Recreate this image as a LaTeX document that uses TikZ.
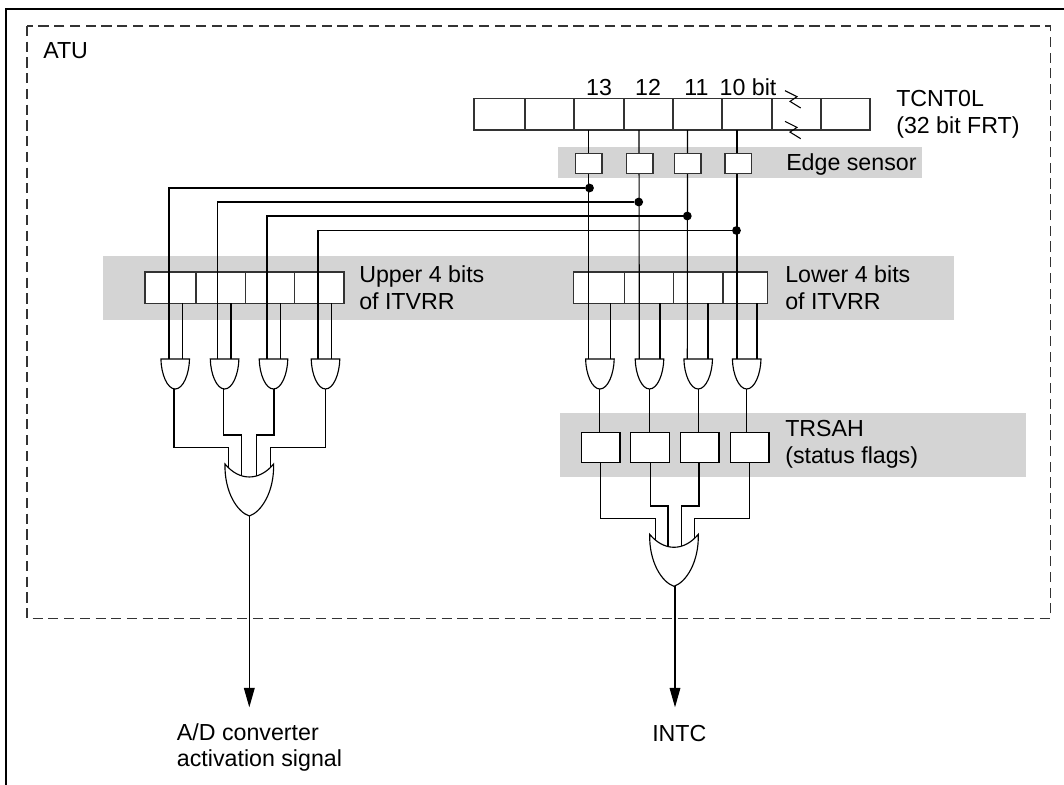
\documentclass[tikz,border=0pt]{standalone}
\usepackage{fontspec}
\setmainfont{Liberation Sans}
\usepackage{tkz-euclide}
\usetikzlibrary{arrows.meta}
\definecolor{BandClr}{rgb}{0.83,0.83,0.83}
\definecolor{BoxClr}{rgb}{0.2,0.2,0.2}
\tikzset{
  wire/.style={line width=.85pt,color=black},
  outwire/.style={wire,-{Triangle[length=14.5pt,width=8pt]}},
  regcell/.style={draw=BoxClr,line width=1.1pt,fill=white,inner sep=0pt,outer sep=0pt,minimum height=23.5pt},
  tcntcell/.style={regcell,minimum width=37pt},
  edgebox/.style={draw=BoxClr,line width=1pt,fill=white,inner sep=0pt,outer sep=0pt,minimum width=20pt,minimum height=15pt},
  flagbox/.style={draw=black,line width=1pt,fill=white,inner sep=0pt,outer sep=0pt,minimum width=29pt,minimum height=22.2pt},
  jointdot/.style={circle,fill=black,inner sep=0pt,minimum size=6.6pt},
  lbl/.style={anchor=base west,inner sep=0pt,font=\fontsize{17.4}{20}\selectfont,align=left},
  bitlbl/.style={lbl,anchor=base},
  andgate/.pic={
    \draw[wire,fill=white] (-14.3,0) .. controls (-14,15) and (-8,30) .. (0,30)
      .. controls (8,30) and (14,15) .. (14.3,0) -- cycle;
    \coordinate (-out) at (0,30);
  },
  orgate/.pic={
    \draw[wire,fill=white] (-24.3,0) .. controls (-10,17.3) and (10,17.3) .. (24.3,0)
      .. controls (25,28) and (12,48) .. (0,52)
      .. controls (-12,48) and (-25,28) .. (-24.3,0) -- cycle;
    \coordinate (-out) at (0,52);
  },
  breakmark/.pic={
    \draw[line width=.8pt,color=black] (-8,-8) -- (4,-2) -- (-3,2.7) -- (7.7,9.3);
  }
}

\begin{document}
\begin{tikzpicture}[x=.75pt,y=-.75pt]
\useasboundingbox (0,0) rectangle (1064,785);

\tkzDefPoints{6/9/FrameA,1064/9/FrameB,6/785/FrameC}
\tkzDefPoints{27/26/AtuA,1050.3/618.3/AtuB}

\draw[line width=1.7pt] (FrameB) -- (FrameA) -- (FrameC);
\draw[line width=.85pt,color=BoxClr,dash pattern=on 7.6pt off 4.2pt] (AtuA) rectangle (AtuB);

\fill[BandClr] (558,147) rectangle (922,177.7);
\fill[BandClr] (103,256) rectangle (954,319.5);
\fill[BandClr] (560,413) rectangle (1026,476.7);

\node[tcntcell,minimum width=38.2pt] (T1) at (499.5,114.3) {};
\node[tcntcell] (T2) at (549.5,114.3) {};
\node[tcntcell] (T3) at (599,114.3) {};
\node[tcntcell] (T4) at (648.5,114.3) {};
\node[tcntcell] (T5) at (697.5,114.3) {};
\node[tcntcell] (T6) at (747,114.3) {};
\node[tcntcell] (T7) at (796.5,114.3) {};
\node[tcntcell] (T8) at (845.5,114.3) {};

\node[regcell,minimum width=38.2pt] (U1) at (170.5,287.7) {};
\node[tcntcell] (U2) at (220.7,287.7) {};
\node[tcntcell] (U3) at (270,287.7) {};
\node[tcntcell] (U4) at (319.3,287.7) {};

\node[regcell,minimum width=38.1pt] (L1) at (599.1,287.7) {};
\node[tcntcell] (L2) at (649.1,287.7) {};
\node[tcntcell] (L3) at (698.4,287.7) {};
\node[regcell,minimum width=33.5pt] (L4) at (745.4,287.7) {};

\node[jointdot] (D13) at (589.5,188) {};
\node[jointdot] (D12) at (638.7,202) {};
\node[jointdot] (D11) at (687.3,216) {};
\node[jointdot] (D10) at (736.5,230.5) {};

\tkzDefPoints{588.7/130/S13,639/130/S12,687.5/130/S11,737/130/S10}
\tkzDefPoints{588.7/359/LA1,610.7/359/LB1,639.3/359/LA2,660/359/LB2,687.3/359/LA3,708/359/LB3,737/359/LA4,757/359/LB4}
\tkzDefPoints{169/359/UA1,182.3/359/UB1,217.3/359/UA2,231/359/UB2,267/359/UA3,280.3/359/UB3,318/359/UA4,331.7/359/UB4}

\draw[wire] (S13) -- (LA1);
\draw[wire] (S12) -- (LA2);
\draw[wire] (S11) -- (LA3);
\draw[wire] (S10) -- (LA4);

\draw[wire] (D13) -- (UA1 |- D13) -- (UA1);
\draw[wire] (D12) -- (UA2 |- D12) -- (UA2);
\draw[wire] (D11) -- (UA3 |- D11) -- (UA3);
\draw[wire] (D10) -- (UA4 |- D10) -- (UA4);

\draw[wire] (U1.south -| UB1) -- (UB1);
\draw[wire] (U2.south -| UB2) -- (UB2);
\draw[wire] (U3.south -| UB3) -- (UB3);
\draw[wire] (U4.south -| UB4) -- (UB4);
\draw[wire] (L1.south -| LB1) -- (LB1);
\draw[wire] (L2.south -| LB2) -- (LB2);
\draw[wire] (L3.south -| LB3) -- (LB3);
\draw[wire] (L4.south -| LB4) -- (LB4);

\node[edgebox] (E13) at (588.7,163.7) {};
\node[edgebox] (E12) at (639.7,163.7) {};
\node[edgebox] (E11) at (687.7,163.7) {};
\node[edgebox] (E10) at (738.2,163.7) {};

\pic (GU1) at (175.2,359) {andgate};
\pic (GU2) at (224.6,359) {andgate};
\pic (GU3) at (273.5,359) {andgate};
\pic (GU4) at (325.5,359) {andgate};
\pic (GL1) at (599.9,359) {andgate};
\pic (GL2) at (649.5,359) {andgate};
\pic (GL3) at (698.2,359) {andgate};
\pic (GL4) at (746.7,359) {andgate};

\node[flagbox] (F1) at (600.7,447.5) {};
\node[flagbox] (F2) at (650,447.5) {};
\node[flagbox] (F3) at (699.7,447.5) {};
\node[flagbox] (F4) at (749.5,447.5) {};

\draw[wire] (GL1-out) -- (F1.north -| GL1-out);
\draw[wire] (GL2-out) -- (F2.north -| GL2-out);
\draw[wire] (GL3-out) -- (F3.north -| GL3-out);
\draw[wire] (GL4-out) -- (F4.north -| GL4-out);

\tkzDefPoints{174/447.7/UP1,228.7/447.7/UQ1,223.7/435/UP2,241.3/435/UQ2,274/435/UP3,256.3/435/UQ3,325.7/447.7/UP4,270.7/447.7/UQ4}
\tkzDefPoints{228.7/480/UR1,241.3/490/UR2,256.3/490/UR3,270.7/480/UR4}
\tkzDefPoints{600.7/518.3/LP1,655.7/518.3/LQ1,650.3/506/LP2,668/506/LQ2,699/506/LP3,681.7/506/LQ3,749.3/518.3/LP4,694.7/518.3/LQ4}
\tkzDefPoints{655.7/550/LR1,668/560/LR2,681.7/560/LR3,694.7/550/LR4}

\draw[wire] (UP1 |- GU1-out) -- (UP1) -- (UQ1) -- (UR1);
\draw[wire] (UP2 |- GU2-out) -- (UP2) -- (UQ2) -- (UR2);
\draw[wire] (UP3 |- GU3-out) -- (UP3) -- (UQ3) -- (UR3);
\draw[wire] (UP4 |- GU4-out) -- (UP4) -- (UQ4) -- (UR4);
\draw[wire] (F1.south -| LP1) -- (LP1) -- (LQ1) -- (LR1);
\draw[wire] (F2.south -| LP2) -- (LP2) -- (LQ2) -- (LR2);
\draw[wire] (F3.south -| LP3) -- (LP3) -- (LQ3) -- (LR3);
\draw[wire] (F4.south -| LP4) -- (LP4) -- (LQ4) -- (LR4);

\pic (OU) at (249.3,464) {orgate};
\pic (OL) at (674,534.3) {orgate};

\tkzDefPoints{249.3/707.3/AdEnd,675/707.3/IntcEnd}
\draw[outwire] (OU-out) -- (AdEnd);
\draw[outwire] (OL-out -| IntcEnd) -- (IntcEnd);

\pic at (793,98.7) {breakmark};
\pic at (793,129.4) {breakmark};

\node[lbl] (AtuLbl) at (43,58.5) {ATU};
\node[bitlbl] (B13) at (599,95) {13};
\node[bitlbl] (B12) at (648,95) {12};
\node[bitlbl] (B11) at (696.5,95) {11};
\node[bitlbl] (B10) at (748,95) {10 bit};
\node[lbl] (TcntLbl) at (896,133) {TCNT0L\\(32 bit FRT)};
\node[lbl] (EdgeLbl) at (786,170.7) {Edge sensor};
\node[lbl] (UpperLbl) at (359,309.5) {Upper 4 bits\\of ITVRR};
\node[lbl] (LowerLbl) at (785,309.5) {Lower 4 bits\\of ITVRR};
\node[lbl] (FlagLbl) at (785,463) {TRSAH\\(status flags)};
\node[lbl] (AdLbl) at (176.7,766.7) {A/D converter\\activation signal};
\node[lbl] (IntcLbl) at (652,741.7) {INTC};

\end{tikzpicture}
\end{document}
